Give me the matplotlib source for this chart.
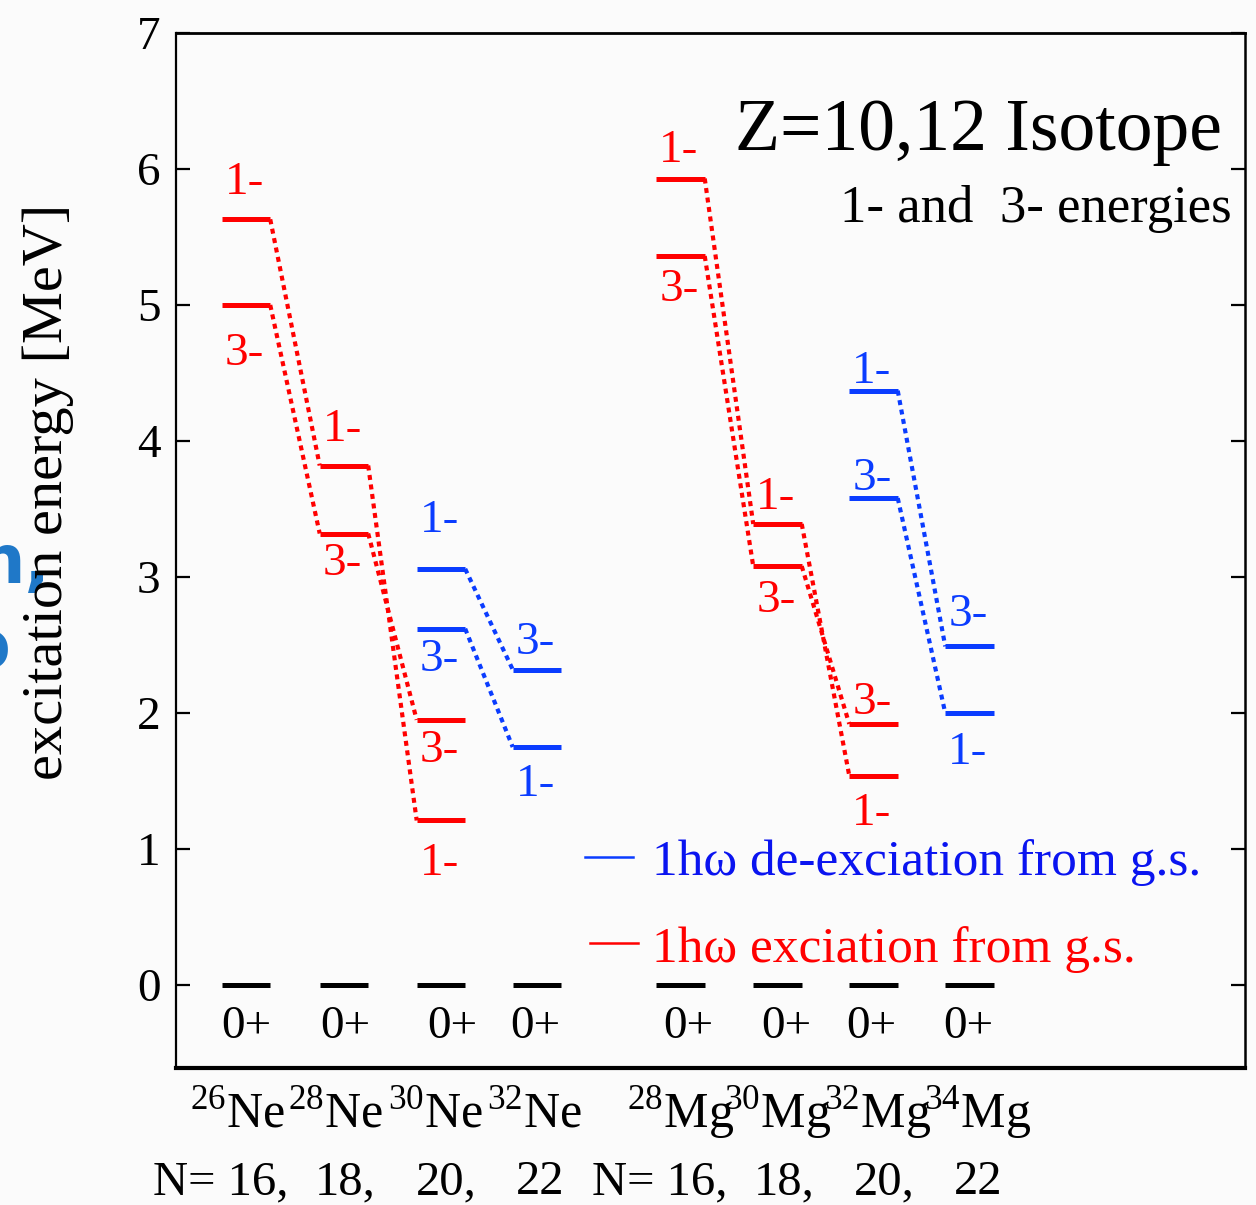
import numpy as np
import matplotlib.pyplot as plt

plt.rcParams['font.family'] = ['Liberation Serif', 'DejaVu Serif']
plt.rcParams['mathtext.fontset'] = 'custom'
plt.rcParams['mathtext.rm'] = 'Liberation Serif'

nan = np.nan

# isotopes, Z=10 (Ne) and Z=12 (Mg)
isotopes = [r'$^{\mathrm{26}}$Ne', r'$^{\mathrm{28}}$Ne', r'$^{\mathrm{30}}$Ne', r'$^{\mathrm{32}}$Ne',
            r'$^{\mathrm{28}}$Mg', r'$^{\mathrm{30}}$Mg', r'$^{\mathrm{32}}$Mg', r'$^{\mathrm{34}}$Mg']
neutrons = ['N= 16,', '18,', '20,', '22', 'N= 16,', '18,', '20,', '22']

# excitation energies [MeV]
gs = [0, 0, 0, 0, 0, 0, 0, 0]
red_1m = [5.63, 3.82, 1.21, nan, 5.93, 3.39, 1.54, nan]
red_3m = [5.00, 3.32, 1.95, nan, 5.36, 3.08, 1.92, nan]
blue_1m = [nan, nan, 3.06, 1.75, nan, nan, 4.37, 2.00]
blue_3m = [nan, nan, 2.62, 2.32, nan, nan, 3.58, 2.49]

# layout
xpos = [0, 1.01, 2.01, 3.0, 4.48, 5.48, 6.47, 7.46]
hw = 0.25
RED = '#ff0000'
BLUE = '#0a3cff'
# label gaps in pixels (+ above the bar, - below the bar)
red_1m_lab = [25, 25, -23, None, 17, 15, -17, None]
red_3m_lab = [-28, -9, -10, None, -13, -14, 10, None]
blue_1m_lab = [None, None, 37, -17, None, None, 8, -19]
blue_3m_lab = [None, None, -10, 16, None, None, 8, 20]
zero_dx = [0, 1, 11, -2, 8, 9, -2, -1]
iso_dx = [-8, -8, -5, -2, 0, 0, 4, 8]
n_dx = [-25, 1, 5, 3, -21, 7, 11, 9]

fig = plt.figure(figsize=(12.56, 12.05), dpi=100, facecolor='#fbfbfb')

# leftover blue text at the edge of the slide
fig.text(0.040, 0.516, 'n,', color='#1f78c8', fontsize=48, fontweight='bold',
         family='DejaVu Sans', ha='right', va='baseline', zorder=0)
fig.text(0.008, 0.446, 'o', color='#1f78c8', fontsize=48, fontweight='bold',
         family='DejaVu Sans', ha='right', va='baseline', zorder=0)

ax = fig.add_axes([0.1401, 0.1137, 0.8511, 0.8589])
ax.set_facecolor('#fbfbfb')
ax.set_xlim(-0.722, 10.30)
ax.set_ylim(-0.61, 7)


def level(i, y, color, lab=None, gap=None):
    ax.plot([xpos[i] - hw, xpos[i] + hw], [y, y], color=color, lw=3.6,
            solid_capstyle='butt', zorder=3)
    if lab is None:
        return
    dy = gap if gap > 0 else gap - 32
    ax.annotate(lab, (xpos[i] - hw, y), xytext=(3, dy), textcoords='offset pixels',
                color=color, fontsize=34, ha='left', va='baseline')


def connect(i, j, yi, yj, color):
    ax.plot([xpos[i] + hw, xpos[j] - hw], [yi, yj], color=color, lw=3.0,
            linestyle=(0, (1.2, 1.1)), zorder=2)


for i in range(8):
    level(i, gs[i], 'black')
    ax.annotate('0+', (xpos[i], gs[i]), xytext=(zero_dx[i], -53),
                textcoords='offset pixels', fontsize=34, ha='center', va='baseline')
    for vals, labs, col, name in [(red_1m, red_1m_lab, RED, '1-'), (red_3m, red_3m_lab, RED, '3-'),
                                  (blue_1m, blue_1m_lab, BLUE, '1-'), (blue_3m, blue_3m_lab, BLUE, '3-')]:
        if not np.isnan(vals[i]):
            level(i, vals[i], col, name, labs[i])

# red: same spin joined
for a, b in [(0, 1), (1, 2), (4, 5), (5, 6)]:
    connect(a, b, red_1m[a], red_1m[b], RED)
    connect(a, b, red_3m[a], red_3m[b], RED)
# blue: upper to upper, lower to lower
for a, b in [(2, 3), (6, 7)]:
    ya = sorted([blue_1m[a], blue_3m[a]])
    yb = sorted([blue_1m[b], blue_3m[b]])
    connect(a, b, ya[1], yb[1], BLUE)
    connect(a, b, ya[0], yb[0], BLUE)

# isotope and neutron labels below the frame
for i in range(8):
    ax.annotate(isotopes[i], (xpos[i], 0.064), xycoords=('data', 'figure fraction'),
                xytext=(iso_dx[i], 0), textcoords='offset pixels',
                fontsize=36, ha='center', va='baseline', annotation_clip=False)
    ax.annotate(neutrons[i], (xpos[i], 0.009), xycoords=('data', 'figure fraction'),
                xytext=(n_dx[i], 0), textcoords='offset pixels',
                fontsize=35, ha='center', va='baseline', annotation_clip=False)

# legend drawn by hand
ax.plot([0.383, 0.428], [0.204, 0.204], color=BLUE, lw=1.8, transform=ax.transAxes)
ax.text(0.445, 0.186, '1hω de-exciation from g.s.', color='#0a14f0', fontsize=37,
        transform=ax.transAxes, va='baseline')
ax.plot([0.387, 0.432], [0.121, 0.121], color=RED, lw=1.8, transform=ax.transAxes)
ax.text(0.445, 0.102, '1hω exciation from g.s.', color=RED, fontsize=37,
        transform=ax.transAxes, va='baseline')

ax.text(0.978, 0.887, 'Z=10,12 Isotope', fontsize=53, ha='right', va='baseline',
        transform=ax.transAxes)
ax.text(0.988, 0.817, '1- and  3- energies', fontsize=38, ha='right', va='baseline',
        transform=ax.transAxes)

fig.text(0.038, 0.592, 'excitation energy [MeV]', rotation=90, fontsize=42,
         ha='center', va='center')

ax.set_xticks([])
ax.set_yticks(range(8))
ax.tick_params(axis='y', direction='in', length=10, width=1.6, labelsize=34,
               pad=11, right=True)
for side, w in [('top', 2.0), ('left', 1.6), ('right', 1.8), ('bottom', 3.0)]:
    ax.spines[side].set_linewidth(w)

fig.savefig('out.png', dpi=100, facecolor=fig.get_facecolor())
